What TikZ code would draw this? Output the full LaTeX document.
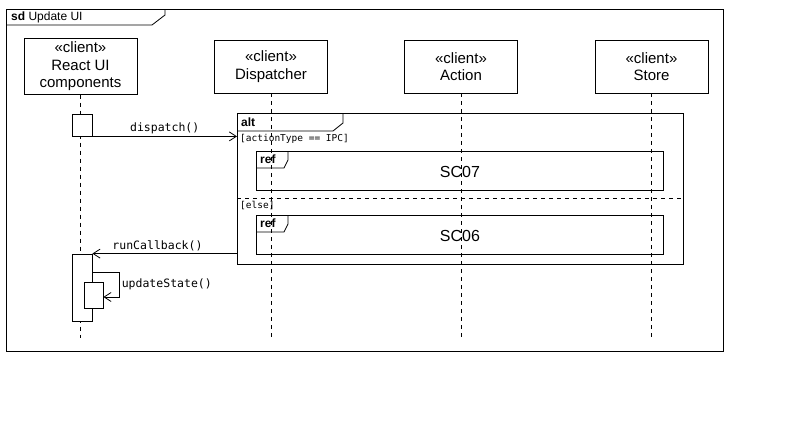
\documentclass[tikz,border=0pt]{standalone}
\usepackage{fontspec}
\setmainfont{Liberation Sans}
\setmonofont{DejaVu Sans Mono}
\usetikzlibrary{positioning}
\usetikzlibrary{arrows.meta}
\tikzset{
        % Lifeline heads
        node_head/.style={draw=black, line width=0.8pt, fill=white, align=center, minimum width=113pt, minimum height=53pt, font=\fontsize{15}{17.5}\selectfont},
        % Activation boxes
        node_activation/.style={draw=black, line width=0.8pt, fill=white, inner sep=0pt},
        % Combined fragments
        node_frame/.style={draw=black, line width=0.8pt, anchor=north west, inner sep=0pt},
        % Frame tab labels
        node_tab/.style={anchor=west, inner sep=0pt, font=\fontsize{12}{14}\selectfont},
        % Guards
        node_guard/.style={anchor=west, inner sep=0pt, font=\ttfamily\fontsize{9.5}{11}\selectfont},
        % Lifelines and messages
        lifeline/.style={dashed, dash pattern=on 4pt off 4pt, line width=0.7pt},
        msg/.style={->, line width=0.8pt},
        msg_label/.style={font=\ttfamily\fontsize{11.5}{13}\selectfont, inner sep=2pt}
}
\begin{document}
\begin{tikzpicture}[x=1pt, y=-1pt, >={Straight Barb[length=7pt,width=9pt]}]
    \useasboundingbox (0,0) rectangle (796,423);

    % outer frame
    \node[node_frame, minimum width=717pt, minimum height=342pt] (sd) at (6,9) {};
    \draw[line width=0.8pt] (6,25) -- (152,25) -- (165,15) -- (165,9);
    \node[node_tab] (sd_title) at (11,17) {\textbf{sd} Update UI};

    % lifelines
    \node[node_head] (react) at (80.5,66.5) {«client»\\React UI\\components};
    \node[node_head] (dispatcher) at (271,66.5) {«client»\\Dispatcher};
    \node[node_head] (action) at (461,66.5) {«client»\\Action};
    \node[node_head] (store) at (651.5,66.5) {«client»\\Store};
    \foreach \n in {react, dispatcher, action, store} {
        \coordinate (\n_end) at (\n.south |- 0,338);
        \draw[lifeline] (\n.south) -- (\n_end);
    }

    % alt fragment
    \node[node_frame, minimum width=446pt, minimum height=151pt] (alt) at (237,113) {};
    \draw[line width=0.8pt] (237,131) -- (333,131) -- (343,123) -- (343,113);
    \node[node_tab] (alt_label) at (241,122) {\textbf{alt}};
    \node[node_guard] (guard_ipc) at (240,139) {[actionType == IPC]};
    \draw[lifeline] (237,198) -- (683,198);
    \node[node_guard] (guard_else) at (240,205) {[else]};

    % ref fragments
    \node[node_frame, minimum width=407pt, minimum height=39pt] (ref_sc07) at (256,151) {};
    \node[font=\fontsize{16}{18}\selectfont] at ([yshift=-1.5pt]ref_sc07.center) {SC07};
    \draw[line width=0.8pt] (256,168) -- (284,168) -- (288,160) -- (288,151);
    \node[node_tab] at (260,159) {\textbf{ref}};
    \node[node_frame, minimum width=407pt, minimum height=39pt] (ref_sc06) at (256,215) {};
    \node[font=\fontsize{16}{18}\selectfont] at ([yshift=-1.5pt]ref_sc06.center) {SC06};
    \draw[line width=0.8pt] (256,232) -- (284,232) -- (288,224) -- (288,215);
    \node[node_tab] at (260,223) {\textbf{ref}};

    % activations
    \node[node_activation, minimum width=20pt, minimum height=22pt] (act_dispatch) at (82,125) {};
    \node[node_activation, minimum width=20pt, minimum height=67pt] (act_callback) at (82,287.5) {};
    \node[node_activation, minimum width=19pt, minimum height=26pt] (act_update) at (93.5,295) {};

    % messages
    \draw[msg] (act_dispatch.south east) -- (act_dispatch.south east -| alt.west)
        node[msg_label, midway, above] {dispatch()};
    \draw[msg] (alt.west |- act_callback.north east) -- (act_callback.north east)
        node[msg_label, pos=0.55, above] {runCallback()};
    \draw[msg] ([yshift=-19pt]act_callback.north east) -- ++(27,0) |- ([yshift=-2pt]act_update.east)
        node[msg_label, pos=0.25, right] {updateState()};
\end{tikzpicture}
\end{document}
